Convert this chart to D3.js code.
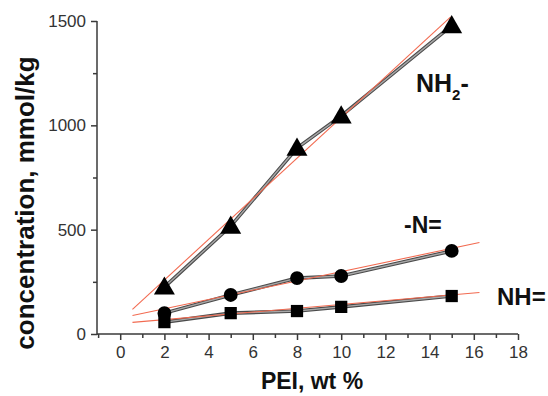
<!DOCTYPE html>
<html><head><meta charset="utf-8">
<script src="https://cdn.jsdelivr.net/npm/d3@7"></script>
<style>body{margin:0;background:#fff}svg{display:block}text{font-family:Arial,"Liberation Sans",sans-serif}</style>
</head><body>
<svg id="c" width="548" height="396"></svg>
<script>
const xValues = [2, 5, 8, 10, 15];
const nh2 = [225, 517, 891, 1045, 1478];
const nEq = [100, 187, 268, 278, 398];
const nhEq = [57, 100, 110, 130, 182];
const xTicks = [0, 2, 4, 6, 8, 10, 12, 14, 16, 18];
const yTicks = [0, 500, 1000, 1500];
const fitRanges = [[0.6, 15], [0.6, 16.3], [0.6, 16.3]];
const seriesNames = ["NH2-", "-N=", "NH="];
const seriesValues = [nh2, nEq, nhEq];
const markers = [d3.symbolTriangle, d3.symbolCircle, d3.symbolSquare];

const svg = d3.select("#c");
const x = d3.scaleLinear().domain([-1.05, 18]).range([97, 518]);
const y = d3.scaleLinear().domain([0, 1500]).range([334, 21]);
const axisColor = "#3a3a3a";

// axes
const gx = svg.append("g").attr("transform", "translate(0,334)")
  .call(d3.axisBottom(x).tickValues(xTicks).tickSize(6).tickPadding(6).tickFormat(d3.format("d")));
const gxm = svg.append("g").attr("transform", "translate(0,334)")
  .call(d3.axisBottom(x).tickValues(d3.range(-1, 18, 2)).tickSize(4).tickFormat(""));
const gy = svg.append("g").attr("transform", "translate(97,0)")
  .call(d3.axisLeft(y).tickValues(yTicks).tickSize(6).tickPadding(5).tickFormat(d3.format("d")));
const gym = svg.append("g").attr("transform", "translate(97,0)")
  .call(d3.axisLeft(y).tickValues([250, 750, 1250]).tickSize(4).tickFormat(""));
[gx, gxm, gy, gym].forEach(g => {
  g.select(".domain").attr("stroke", axisColor).attr("stroke-width", 1.5);
  g.selectAll(".tick line").attr("stroke", axisColor).attr("stroke-width", 1.5);
  g.selectAll(".tick text").attr("fill", "#333").style("font-size", "17px").style("font-family", "Arial, 'Liberation Sans', sans-serif");
});
gx.select(".domain").attr("d", `M${x(-1.05)},0H${x(18)}`);
gxm.select(".domain").remove();
gy.select(".domain").attr("d", `M0,${y(1500)}V${y(0) + 1}`);
gym.select(".domain").remove();

// fit lines (least squares from data)
function fit(xs, ys) {
  const mx = d3.mean(xs), my = d3.mean(ys);
  let sxy = 0, sxx = 0;
  xs.forEach((v, i) => { sxy += (v - mx) * (ys[i] - my); sxx += (v - mx) * (v - mx); });
  const b = sxy / sxx; return [b, my - b * mx];
}

seriesValues.forEach((vals, si) => {
  const pts = xValues.map((v, i) => [v, vals[i]]);
  const line = d3.line().x(d => x(d[0])).y(d => y(d[1]));
  svg.append("path").datum(pts).attr("d", line).attr("fill", "none")
    .attr("stroke", "#4a4a4a").attr("stroke-width", 3.6);
  svg.append("path").datum(pts).attr("d", line).attr("fill", "none")
    .attr("stroke", "#a8a8a8").attr("stroke-width", 1.4);
  const [b, a] = fit(xValues, vals);
  const fr = fitRanges[si];
  svg.append("path").datum(fr.map(v => [v, a + b * v])).attr("d", line)
    .attr("fill", "none").attr("stroke", "#f26a50").attr("stroke-width", 1.1)
    .attr("transform", "translate(-1,-1.5)");
  const sizes = [190, 150, 150];
  svg.append("g").selectAll("path").data(pts).join("path")
    .attr("d", d3.symbol().type(markers[si]).size(sizes[si]))
    .attr("transform", d => `translate(${x(d[0])},${y(d[1]) + (si === 0 ? 1.5 : 0)})`)
    .attr("fill", "#000");
});

// series labels
const nh2Label = svg.append("text").attr("x", 416).attr("y", 92)
  .style("font-size", "25px").style("font-weight", "bold").attr("fill", "#111");
nh2Label.append("tspan").text("NH");
nh2Label.append("tspan").text("2").style("font-size", "15px").attr("dy", 8);
nh2Label.append("tspan").text("-").attr("dy", -8);
svg.append("text").attr("x", 404).attr("y", 233).text(seriesNames[1])
  .style("font-size", "23px").style("font-weight", "bold").attr("fill", "#111");
svg.append("text").attr("x", 497).attr("y", 305).text(seriesNames[2])
  .style("font-size", "24px").style("font-weight", "bold").attr("fill", "#111");

// axis titles
svg.append("text").attr("x", 312).attr("y", 389).attr("text-anchor", "middle")
  .text("PEI, wt %").style("font-size", "23px").style("font-weight", "bold").attr("fill", "#111");
svg.append("text").attr("transform", "translate(34,203) rotate(-90)").attr("text-anchor", "middle")
  .text("concentration, mmol/kg").style("font-size", "26px").style("font-weight", "bold").attr("fill", "#111");
</script>
</body></html>
